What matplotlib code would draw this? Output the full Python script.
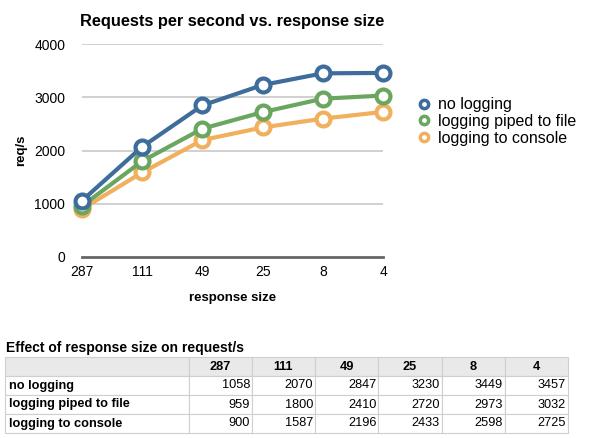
import numpy as np
import matplotlib.pyplot as plt
from matplotlib.lines import Line2D

plt.rcParams['font.family'] = ['Liberation Sans', 'DejaVu Sans']

sizes = ['287', '111', '49', '25', '8', '4']
no_logging = [1058, 2070, 2847, 3230, 3449, 3457]
piped_to_file = [959, 1800, 2410, 2720, 2973, 3032]
to_console = [900, 1587, 2196, 2433, 2598, 2725]
series_names = ['no logging', 'logging piped to file', 'logging to console']
colors = ['#3e6d9c', '#6aa660', '#f0b05e']

fig = plt.figure(figsize=(5.92, 4.38), dpi=100)
ax = fig.add_axes([82 / 592, 1 - 257 / 438, 301 / 592, 213 / 438])

x = np.arange(len(sizes))
# draw back to front so blue sits on top
for vals, c in list(zip([no_logging, piped_to_file, to_console], colors))[::-1]:
    ax.plot(x, vals, color=c, lw=3, marker='o', ms=10, mew=3,
            mfc='white', mec=c, clip_on=False, zorder=3)

ax.set_xlim(0, len(sizes) - 1)
ax.set_ylim(0, 4000)
ax.set_yticks([0, 1000, 2000, 3000, 4000])
ax.set_xticks(x)
ax.set_xticklabels(sizes)
for y in [1000, 2000, 3000, 4000]:
    ax.axhline(y, color='#c8c8c8', lw=1.2, zorder=1)
ax.axhline(0, color='#666666', lw=2, zorder=2, clip_on=False)
for s in ax.spines.values():
    s.set_visible(False)
ax.tick_params(length=0, labelsize=10, pad=6)
ax.tick_params(axis='y', pad=12)
ax.set_title('Requests per second vs. response size', fontsize=11.8,
             fontweight='bold', pad=13)
ax.set_xlabel('response size', fontsize=9.5, fontweight='bold', labelpad=9)
ax.set_ylabel('req/s', fontsize=9.5, fontweight='bold', labelpad=5)

handles = [Line2D([], [], ls='none', marker='o', ms=6, mew=2.5, mfc='white', mec=c)
           for c in colors]
fig.legend(handles, series_names, loc='upper left',
           bbox_to_anchor=(400 / 592, 1 - 83 / 438), frameon=False,
           fontsize=11.5, handletextpad=0.3, labelspacing=0.1,
           handlelength=1.2)

# table under the chart
fig.text(6 / 592, 1 - 348 / 438, 'Effect of response size on request/s',
         fontsize=10, fontweight='bold', va='center')
tax = fig.add_axes([5 / 592, 1 - 433 / 438, 563 / 592, 76 / 438])
tax.axis('off')
rows = [no_logging, piped_to_file, to_console]
cells = [[''] + sizes] + [[n] + [str(v) for v in r] for n, r in zip(series_names, rows)]
tbl = tax.table(cellText=cells, bbox=[0, 0, 1, 1],
                colWidths=[183] + [63] * 6)
tbl.auto_set_font_size(False)
for (r, c), cell in tbl.get_celld().items():
    cell.set_edgecolor('#cfcfcf')
    cell.set_linewidth(0.8)
    txt = cell.get_text()
    txt.set_fontsize(9.2)
    if r == 0:
        cell.set_facecolor('#e9e9e9')
        txt.set_fontweight('bold')
        txt.set_ha('center')
    elif c == 0:
        txt.set_fontweight('bold')
        txt.set_ha('left')
        cell.PAD = 0.02
    else:
        txt.set_ha('right')
        cell.PAD = 0.03

fig.savefig('out.png', dpi=100)
